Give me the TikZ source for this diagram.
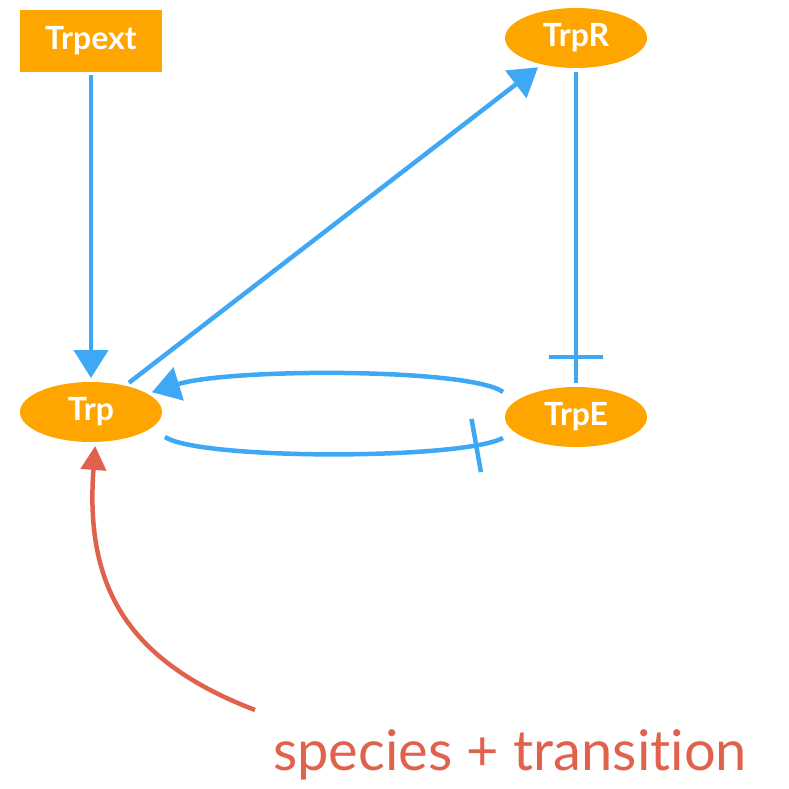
\documentclass[tikz,border=0pt]{standalone}
\usepackage{fontspec}
\setmainfont{Lato}[Ligatures={NoCommon,NoRare}]
\usetikzlibrary{arrows.meta,calc,shapes.geometric}
\definecolor{specorange}{HTML}{FFA500}
\definecolor{linkblue}{HTML}{3EA8F4}
\definecolor{notered}{HTML}{E1624C}

\begin{document}
\begin{tikzpicture}[x=1pt,y=-1pt,
    species/.style={ellipse,fill=specorange,text=white,font=\bfseries\fontsize{32}{34}\selectfont,
      minimum width=142pt,minimum height=60pt,inner sep=0pt,outer sep=4pt},
    extbox/.style={rectangle,fill=specorange,text=white,font=\bfseries\fontsize{32}{34}\selectfont,
      minimum width=142pt,minimum height=62pt,inner sep=0pt,outer sep=3pt},
    act/.style={draw=linkblue,line width=4.5pt,-{Triangle[length=28pt,width=34pt]}},
    inh/.style={draw=linkblue,line width=4.5pt},
    inhbar/.style={sloped,fill=linkblue,inner sep=0pt,minimum width=4.5pt,minimum height=54pt},
    note/.style={draw=notered,line width=4.5pt,-{Triangle[length=24pt,width=25pt]}},
    notetext/.style={text=notered,font=\fontsize{56}{62}\selectfont,inner sep=0pt}]
        \useasboundingbox (0,0) rectangle (789,788);
        \node[extbox] (trpext) at (91,41) {Trpext};
        \node[species] (trp) at (91,412) {Trp};
        \node[species] (trpr) at (576,38) {TrpR};
        \node[species] (trpe) at (576,417) {TrpE};
        \draw[act] (trpext) -- (trp);
        \draw[act] (trp) -- (trpr);
        \draw[inh] (trpr) -- (trpe) node[inhbar,pos=0.916] {};
%        loop between Trp and TrpE
        \draw[act] ($(trpe)+(-73,-25)$) .. controls ($(trpe)+(-106,-49)$) and ($(trp)+(139,-44)$) .. (trp.18);
        \draw[inh] ($(trp)+(74,25)$) .. controls ($(trp)+(109,48)$) and ($(trpe)+(-116,43)$) .. ($(trpe)+(-73,21)$)
            node[inhbar,pos=0.87] {};
        \node[notetext,anchor=base west] (lbl) at (273,770) {species + transition};
        \coordinate (tail) at (255,710);
        \draw[note] (tail) .. controls (125,660) and (85,585) .. (trp.-83);
      \end{tikzpicture}
\end{document}
